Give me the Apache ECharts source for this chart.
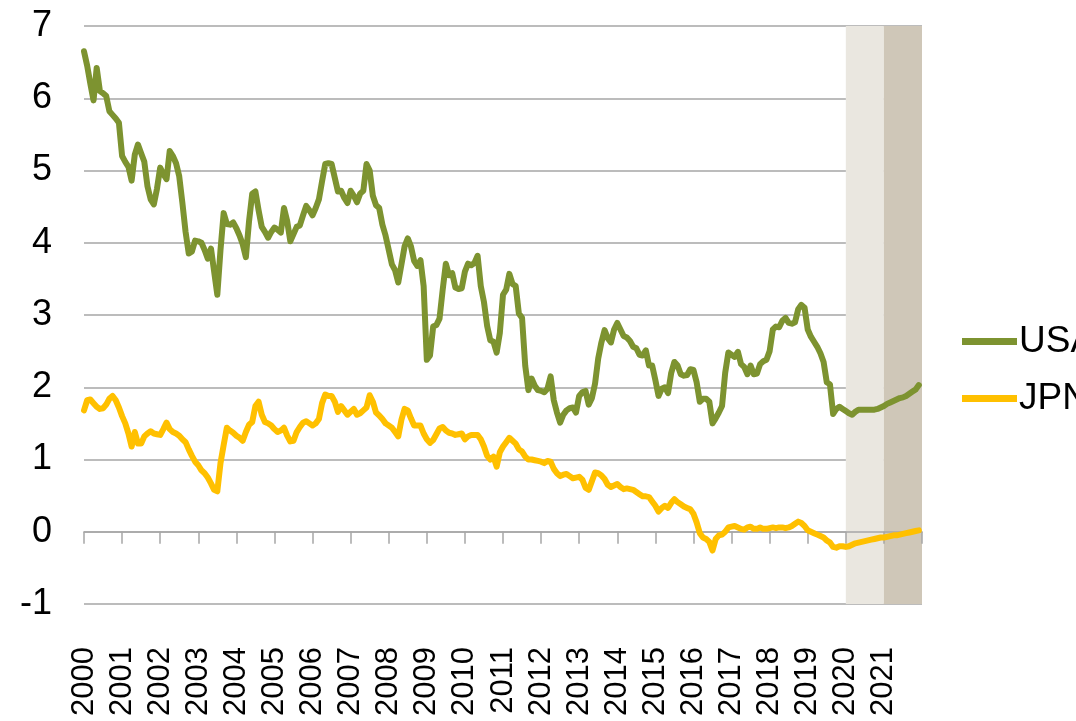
<!DOCTYPE html>
<html>
<head>
<meta charset="utf-8">
<script src="https://cdn.jsdelivr.net/npm/echarts@6/dist/echarts.min.js"></script>
<style>html,body{margin:0;padding:0;background:#fff}#c{width:1076px;height:721px}</style>
</head>
<body>
<div id="c"></div>
<script>
// Year tick labels (each year = 12 monthly points, Jan 2000 .. Dec 2021)
const yearLabels = ['2000','2001','2002','2003','2004','2005','2006','2007','2008','2009','2010',
  '2011','2012','2013','2014','2015','2016','2017','2018','2019','2020','2021'];
const seriesNames = ['USA', 'JPN'];
// Shaded forecast years
const shadedYears = {'2020': '#EAE7E0', '2021': '#CFC7B8'};

// USA, monthly
const usaValues = [
  6.65,6.45,6.20,5.97,6.42,6.10,6.07,6.03,5.82,5.77,5.72,5.66,
  5.20,5.12,5.05,4.86,5.22,5.36,5.24,5.12,4.78,4.60,4.53,4.75,
  5.04,4.95,4.88,5.27,5.20,5.10,4.92,4.55,4.15,3.85,3.88,4.03,
  4.02,4.00,3.90,3.78,3.92,3.60,3.28,3.90,4.41,4.26,4.25,4.28,
  4.20,4.10,3.98,3.80,4.30,4.68,4.71,4.45,4.22,4.15,4.07,4.15,
  4.21,4.18,4.14,4.48,4.30,4.02,4.12,4.22,4.24,4.38,4.51,4.45,
  4.38,4.48,4.60,4.85,5.09,5.10,5.09,4.90,4.71,4.72,4.62,4.55,
  4.72,4.65,4.56,4.68,4.72,5.09,5.00,4.65,4.52,4.48,4.25,4.10,
  3.90,3.70,3.62,3.45,3.70,3.95,4.06,3.95,3.75,3.68,3.76,3.40,
  2.38,2.44,2.84,2.86,2.95,3.35,3.71,3.55,3.58,3.38,3.36,3.37,
  3.60,3.71,3.69,3.72,3.82,3.40,3.18,2.85,2.65,2.63,2.48,2.75,
  3.28,3.35,3.57,3.43,3.40,3.02,2.96,2.30,1.96,2.12,2.02,1.96,
  1.95,1.93,1.98,2.15,1.82,1.65,1.51,1.62,1.68,1.71,1.72,1.65,
  1.88,1.93,1.95,1.76,1.85,2.05,2.40,2.62,2.79,2.68,2.62,2.80,
  2.89,2.80,2.71,2.69,2.64,2.56,2.54,2.45,2.44,2.51,2.30,2.30,
  2.10,1.88,1.98,2.00,1.92,2.20,2.35,2.30,2.18,2.16,2.17,2.25,
  2.24,2.07,1.80,1.84,1.84,1.80,1.50,1.57,1.65,1.74,2.20,2.48,
  2.45,2.42,2.49,2.32,2.28,2.18,2.30,2.18,2.19,2.32,2.36,2.38,
  2.50,2.80,2.84,2.83,2.92,2.96,2.89,2.88,2.90,3.08,3.14,3.10,
  2.80,2.70,2.63,2.56,2.47,2.35,2.07,2.04,1.63,1.70,1.73,1.70,
  1.67,1.64,1.62,1.66,1.69,1.69,1.69,1.69,1.69,1.69,1.70,1.72,
  1.74,1.77,1.79,1.81,1.83,1.85,1.86,1.88,1.91,1.94,1.97,2.03
];

// JPN, monthly
const jpnValues = [
  1.68,1.82,1.83,1.78,1.73,1.70,1.71,1.76,1.84,1.88,1.82,1.72,
  1.60,1.50,1.36,1.18,1.38,1.22,1.22,1.32,1.36,1.39,1.36,1.35,
  1.34,1.42,1.51,1.42,1.38,1.36,1.33,1.28,1.24,1.14,1.05,0.97,
  0.92,0.85,0.81,0.75,0.67,0.58,0.56,0.95,1.20,1.44,1.40,1.37,
  1.33,1.30,1.26,1.38,1.48,1.52,1.74,1.80,1.62,1.52,1.50,1.47,
  1.42,1.38,1.40,1.44,1.33,1.25,1.26,1.38,1.45,1.51,1.53,1.50,
  1.47,1.50,1.56,1.78,1.90,1.88,1.88,1.80,1.66,1.74,1.68,1.62,
  1.66,1.70,1.62,1.64,1.68,1.72,1.89,1.80,1.65,1.61,1.56,1.50,
  1.47,1.44,1.38,1.32,1.55,1.70,1.68,1.57,1.47,1.47,1.47,1.36,
  1.28,1.23,1.27,1.35,1.43,1.45,1.40,1.37,1.36,1.34,1.35,1.36,
  1.28,1.32,1.34,1.34,1.34,1.28,1.18,1.05,1.00,1.04,0.90,1.10,
  1.18,1.24,1.30,1.26,1.22,1.14,1.11,1.04,1.00,1.00,0.99,0.98,
  0.97,0.95,0.98,0.97,0.87,0.81,0.77,0.79,0.80,0.77,0.74,0.75,
  0.76,0.72,0.61,0.58,0.70,0.82,0.81,0.78,0.73,0.65,0.62,0.64,
  0.66,0.62,0.59,0.60,0.59,0.58,0.55,0.52,0.49,0.49,0.48,0.42,
  0.36,0.28,0.33,0.36,0.33,0.40,0.45,0.41,0.38,0.35,0.33,0.31,
  0.25,0.13,-0.02,-0.08,-0.10,-0.14,-0.26,-0.10,-0.05,-0.04,0.00,0.06,
  0.07,0.08,0.06,0.04,0.03,0.06,0.07,0.04,0.04,0.06,0.04,0.04,
  0.05,0.06,0.05,0.06,0.06,0.05,0.06,0.08,0.11,0.14,0.12,0.08,
  0.02,0.00,-0.02,-0.04,-0.06,-0.08,-0.12,-0.15,-0.21,-0.22,-0.20,-0.20,
  -0.21,-0.20,-0.18,-0.16,-0.15,-0.14,-0.13,-0.12,-0.11,-0.10,-0.09,-0.08,
  -0.08,-0.07,-0.06,-0.05,-0.05,-0.04,-0.03,-0.02,-0.01,0.00,0.01,0.02
];

const FONT = "'Liberation Sans', Arial, sans-serif";
const GRID_COLOR = '#A6A6A6';
const nMonths = yearLabels.length * 12;
// one colour per year interval of the x axis (white except the shaded years)
const yearAreaColors = yearLabels.map(y => shadedYears[y] || 'rgba(255,255,255,0)');

const chart = echarts.init(document.getElementById('c'), null, {renderer: 'canvas'});
chart.setOption({
  animation: false,
  backgroundColor: '#ffffff',
  grid: {left: 84, right: 154, top: 26, bottom: 117, containLabel: false},
  legend: {
    orient: 'vertical', left: 957, top: 318,
    data: seriesNames,
    icon: 'rect', itemWidth: 55, itemHeight: 7, itemGap: 20,
    textStyle: {fontFamily: FONT, fontSize: 37, color: '#000', padding: [0,0,0,-3]}
  },
  xAxis: [{
    type: 'value', min: 0, max: nMonths, interval: 12,
    axisLine: {show: true, onZero: true, lineStyle: {color: GRID_COLOR, width: 1.5}},
    axisTick: {show: true, inside: false, length: 12, lineStyle: {color: GRID_COLOR, width: 1.5}},
    axisLabel: {show: false},
    splitLine: {show: false},
    splitArea: {show: true, areaStyle: {color: yearAreaColors}}
  }, {
    type: 'value', min: 0, max: nMonths, interval: 12, position: 'bottom',
    axisLine: {show: false, onZero: false},
    axisTick: {show: false},
    splitLine: {show: false},
    axisLabel: {
      show: true, rotate: 90, margin: 43,
      fontFamily: FONT, fontSize: 31, color: '#000',
      showMinLabel: true, showMaxLabel: true,
      formatter: v => yearLabels[Math.round(v / 12)] || ''
    }
  }],
  yAxis: {
    type: 'value', min: -1, max: 7, interval: 1,
    axisLine: {show: false}, axisTick: {show: false},
    axisLabel: {fontFamily: FONT, fontSize: 36, color: '#000', margin: 32},
    splitLine: {show: true, lineStyle: {color: GRID_COLOR, width: 1.5}}
  },
  series: [
    {
      name: seriesNames[0], type: 'line', showSymbol: false, symbol: 'none',
      color: '#7D9330', z: 5,
      lineStyle: {width: 6, color: '#7D9330', join: 'round', cap: 'round'},
      data: usaValues.map((v, i) => [i, v])
    },
    {
      name: seriesNames[1], type: 'line', showSymbol: false, symbol: 'none',
      color: '#FFC000', z: 5,
      lineStyle: {width: 6, color: '#FFC000', join: 'round', cap: 'round'},
      data: jpnValues.map((v, i) => [i, v])
    }
  ]
});
</script>
</body>
</html>
